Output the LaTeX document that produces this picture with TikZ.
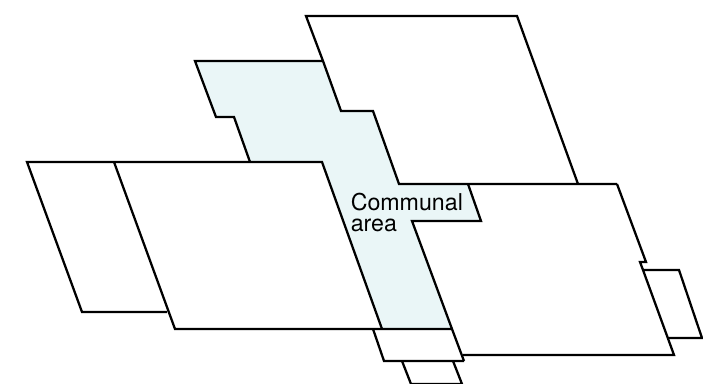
\documentclass[tikz,border=0pt]{standalone}
\usepackage{fontspec}
\setmainfont{TeX Gyre Heros}
\definecolor{communal}{HTML}{EAF6F7}
\begin{document}
\begin{tikzpicture}[x=0.75pt, y=-0.75pt, wall/.style={line width=1.7pt, line join=miter, miter limit=3}]
    \useasboundingbox (0,0) rectangle (703,384);
    % Zona comunal
    \fill[communal] (195,61) -- (323,61) -- (341,111) -- (373,111) -- (399,184) -- (468,184) -- (481,221) -- (412,221) -- (452,329) -- (382,329) -- (322,162) -- (250,162) -- (234,117) -- (216,117) -- cycle;
    \draw[wall] (323,61) -- (195,61) -- (216,117) -- (234,117) -- (250,162);
    % Edificio superior
    \draw[wall] (578,184) -- (517,16) -- (306,16) -- (323,61) -- (341,111) -- (373,111) -- (399,184) -- (617,184);
    % Edificio derecho
    \draw[wall] (468,184) -- (481,221) -- (412,221) -- (452,329) -- (464,361);
    \draw[wall] (463,355) -- (674,355) -- (643,270) -- (640,262) -- (646,262) -- (617,184);
    % Anexo derecho
    \draw[wall] (643,270) -- (679,270) -- (702,338) -- (668,338);
    % Edificio izquierdo
    \draw[wall] (167,312) -- (82,312) -- (27,162) -- (322,162) -- (382,329);
    \draw[wall] (114,162) -- (175,329) -- (452,329);
    % Anexos inferiores
    \draw[wall] (373,329) -- (384,361) -- (464,361);
    \draw[wall] (402,361) -- (411,384) -- (462,384) -- (453,361);
    % Etiqueta
    \node[anchor=north west, inner sep=0pt, align=left, font=\fontsize{17.4}{15.75}\selectfont] (label) at (350.5,192.5) {Communal\\area};
\end{tikzpicture}
\end{document}
